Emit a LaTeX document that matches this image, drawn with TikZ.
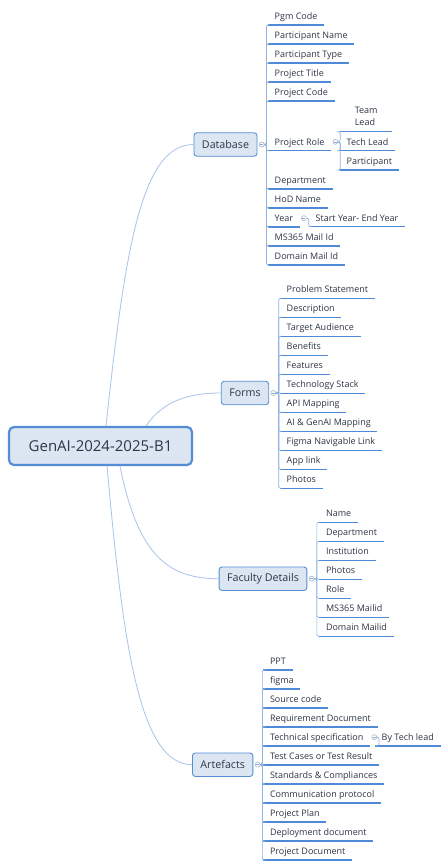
\documentclass[tikz,border=0pt]{standalone}
\usepackage{fontspec}
\setmainfont{Open Sans}
\usetikzlibrary{positioning}
\definecolor{boxfill}{RGB}{220,230,242}
\definecolor{boxline}{RGB}{84,141,212}
\definecolor{inkc}{RGB}{45,54,70}
\definecolor{ulc}{RGB}{79,138,216}
\definecolor{spinec}{RGB}{140,178,228}
\definecolor{trunkc}{RGB}{168,196,234}
\definecolor{markc}{RGB}{150,170,200}

\begin{document}
\begin{tikzpicture}[x=1pt, y=-1pt,
		rootbox/.style={draw=boxline, line width=2.2pt, fill=boxfill, rounded corners=5pt,
			minimum width=183pt, minimum height=38pt, text=inkc, font=\fontsize{15}{18}\selectfont},
		topic/.style={draw=boxline, line width=0.9pt, fill=boxfill, rounded corners=3pt,
			minimum height=23.5pt, inner xsep=8pt, text=inkc, font=\fontsize{10.7}{13}\selectfont},
		leaf/.style={anchor=south west, inner xsep=6.5pt, inner ysep=5.5pt,
			text height=6.4pt, text depth=0pt, text=inkc, font=\fontsize{9}{12}\selectfont,
			append after command={\pgfextra{\let\ulnode\tikzlastnode
				\draw[ulc, line width=1.3pt] (\ulnode.south west) -- (\ulnode.south east);}}},
		knob/.style={circle, draw=markc, line width=0.5pt, fill=white, inner sep=0pt, minimum size=5pt,
			path picture={\draw[markc, line width=0.5pt]
				([xshift=-1.5pt]path picture bounding box.center) -- ([xshift=1.5pt]path picture bounding box.center);}},
		spine/.style={spinec, line width=0.7pt, rounded corners=2pt},
		trunk/.style={trunkc, line width=0.8pt}
		]
		\useasboundingbox[fill=white] (0,0) rectangle (445,868);
		
		% ── Root ──
		\node[rootbox] (root) at (100.5,446) {GenAI-2024-2025-B1};
		
		% ── Main topics ──
		\node[topic] (db)  at (225.5,144.5) {Database};
		\node[topic] (frm) at (245,393)     {Forms};
		\node[topic] (fac) at (263,578.7)   {Faculty Details};
		\node[topic] (art) at (222.7,764.7) {Artefacts};
		\foreach \t in {db,frm,fac,art}
			\node[knob, right=1.5pt of \t] (\t-k) {};
		
		\draw[trunk] ([xshift=5.5pt]root.north)  .. controls +(19,-177) and +(-52,0) .. (db.west);
		\draw[trunk] ([xshift=45.5pt]root.north) .. controls +(17,-25) and +(-32,0) .. (frm.west);
		\draw[trunk] ([xshift=19.5pt]root.south) .. controls +(18,90) and +(-50,0) .. (fac.west);
		\draw[trunk] ([xshift=6.5pt]root.south)  .. controls +(16,177) and +(-53,0) .. (art.west);
		
		% ── Database ──
		\foreach \t [count=\i] in {Pgm Code, Participant Name, Participant Type, Project Title, Project Code}
			\node[leaf] (db\i) at (268,6+19*\i) {\t};
		\node[leaf] (db6) at (268,150.7) {Project Role};
		\foreach \t [count=\i from 7] in {Department, HoD Name, Year, MS365 Mail Id, Domain Mail Id}
			\node[leaf] (db\i) at (268,189+19*\i-133) {\t};
		\foreach \i in {1,...,11}
			\draw[spine] (db-k.east) -- ++(2,0) |- (db\i.south west);
		
		% Project Role
		\node[knob, right=1.5pt of db6] (db6-k) {};
		\node[leaf, align=left, text height={}, text depth={}, minimum width=52pt] (tl) at (340,131.7) {Team\\Lead};
		\node[leaf, minimum width=52pt] (tech) at (340,150.7) {Tech Lead};
		\node[leaf] (part) at (340,170) {Participant};
		\foreach \c in {tl,tech,part}
			\draw[spine] (db6-k.east) -- ++(2,0) |- (\c.south west);
		
		% Year
		\node[knob, right=1.5pt of db9] (db9-k) {};
		\node[leaf] (yr) at (309,226.7) {Start Year- End Year};
		\draw[spine] (db9-k.east) -- ++(2,0) |- (yr.south west);
		
		% ── Forms ──
		\foreach \t [count=\i] in {Problem Statement, Description, Target Audience, Benefits, Features,
			Technology Stack, API Mapping, AI \& GenAI Mapping, Figma Navigable Link, App link, Photos}
			\node[leaf] (frm\i) at (280,279.3+19*\i) {\t};
		\foreach \i in {1,...,11}
			\draw[spine] (frm-k.east) -- ++(2.5,0) |- (frm\i.south west);
		
		% ── Faculty Details ──
		\foreach \t [count=\i] in {Name, Department, Institution, Photos, Role, MS365 Mailid, Domain Mailid}
			\node[leaf] (fac\i) at (319.3,503.3+19*\i) {\t};
		\foreach \i in {1,...,7}
			\draw[spine] (fac-k.east) -- ++(2.5,0) |- (fac\i.south west);
		
		% ── Artefacts ──
		\foreach \t [count=\i] in {PPT, figma, Source code, Requirement Document, Technical specification,
			Test Cases or Test Result, Standards \& Compliances, Communication protocol, Project Plan,
			Deployment document, Project Document}
			\node[leaf] (art\i) at (263.3,651+19*\i) {\t};
		\foreach \i in {1,...,11}
			\draw[spine] (art-k.east) -- ++(2,0) |- (art\i.south west);
		
		% Technical specification
		\node[knob, right=1.5pt of art5] (art5-k) {};
		\node[leaf] (btl) at (375,746) {By Tech lead};
		\draw[spine] (art5-k.east) -- ++(2,0) |- (btl.south west);
	\end{tikzpicture}
\end{document}
